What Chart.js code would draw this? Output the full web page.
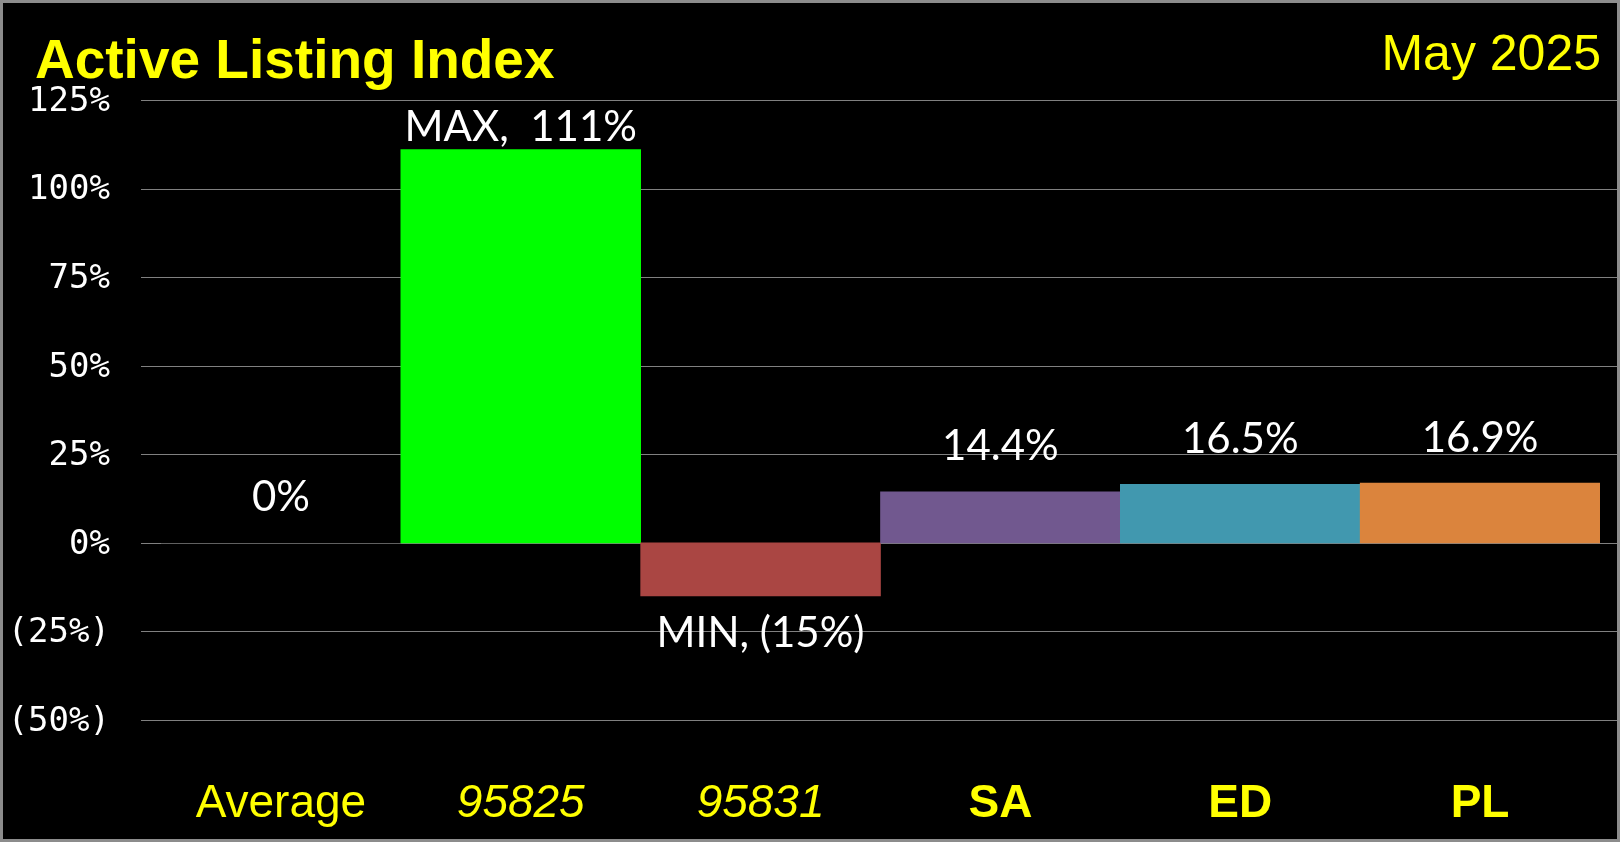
<!DOCTYPE html>
<html>
<head>
<meta charset="utf-8">
<script src="https://cdn.jsdelivr.net/npm/chart.js@4"></script>
<style>
  html, body { margin: 0; padding: 0; background: #000; }
  canvas { display: block; }
</style>
</head>
<body>
<canvas id="chart" width="1620" height="842"></canvas>
<script>
const categories = ["Average", "95825", "95831", "SA", "ED", "PL"];
const values = [0, 111, -15, 14.4, 16.5, 16.9];
const valueLabels = ["0%", "MAX,  111%", "MIN, (15%)", "14.4%", "16.5%", "16.9%"];
const yMin = -50;
const yMax = 125;
const yStep = 25;

const barColors = ["#000000", "#00FF00", "#AA4643", "#71588F", "#4198AF", "#DB843D"];
const tickStyles = [
  { style: "normal", weight: "normal" },
  { style: "italic", weight: "normal" },
  { style: "italic", weight: "normal" },
  { style: "normal", weight: "bold" },
  { style: "normal", weight: "bold" },
  { style: "normal", weight: "bold" },
];

const yellow = "#FFFF00";
const gridColor = "#808080";

// black background, border, titles
const frame = {
  id: "frame",
  beforeDraw(chart) {
    const ctx = chart.ctx;
    ctx.save();
    ctx.fillStyle = "#000";
    ctx.fillRect(0, 0, chart.width, chart.height);
    ctx.restore();
  },
  afterDraw(chart) {
    const ctx = chart.ctx;
    ctx.save();
    ctx.strokeStyle = "#8c8c8c";
    ctx.lineWidth = 3;
    ctx.strokeRect(1.5, 1.5, chart.width - 3, chart.height - 3);

    ctx.fillStyle = yellow;
    ctx.textBaseline = "alphabetic";
    ctx.textAlign = "left";
    ctx.font = 'bold 55px "Liberation Sans"';
    ctx.fillText("Active Listing Index", 35, 78);
    ctx.textAlign = "right";
    ctx.font = '50px "Liberation Sans"';
    ctx.fillText("May 2025", 1601, 70);
    ctx.restore();
  },
};

// gridlines run a little past the plot on both sides
const grid = {
  id: "grid",
  beforeDatasetsDraw(chart) {
    const ctx = chart.ctx;
    const y = chart.scales.y;
    ctx.save();
    ctx.strokeStyle = gridColor;
    ctx.lineWidth = 1;
    y.ticks.forEach((t) => {
      const py = Math.round(y.getPixelForValue(t.value)) + 0.5;
      ctx.beginPath();
      ctx.moveTo(141, py);
      ctx.lineTo(1617, py);
      ctx.stroke();
    });
    ctx.restore();
  },
};

const barLabels = {
  id: "barLabels",
  afterDatasetsDraw(chart) {
    const ctx = chart.ctx;
    const meta = chart.getDatasetMeta(0);
    const area = chart.chartArea;
    ctx.save();
    ctx.fillStyle = "#fff";
    ctx.font = '42px Lato';
    ctx.textAlign = "center";
    ctx.textBaseline = "middle";
    meta.data.forEach((bar, i) => {
      let cy;
      if (values[i] >= 0) {
        cy = bar.y - 45;
        if (cy - 20 < area.top) cy = bar.y - 22;
      } else {
        cy = bar.y + 37;
      }
      ctx.fillText(valueLabels[i], bar.x, cy);
    });
    ctx.restore();
  },
};

new Chart(document.getElementById("chart"), {
  type: "bar",
  plugins: [frame, grid, barLabels],
  data: {
    labels: categories,
    datasets: [
      {
        data: values,
        backgroundColor: barColors,
        borderWidth: 0,
        barPercentage: 1,
        categoryPercentage: 1,
      },
    ],
  },
  options: {
    responsive: false,
    animation: false,
    layout: { padding: { top: 100, right: 20, left: 0, bottom: 0 } },
    plugins: {
      legend: { display: false },
      tooltip: { enabled: false },
      title: { display: false },
    },
    scales: {
      x: {
        grid: { display: false, drawTicks: false },
        border: { display: false },
        afterFit: (scale) => { scale.height = 122; },
        ticks: {
          color: yellow,
          autoSkip: false,
          maxRotation: 0,
          padding: 57,
          font: (c) => ({
            family: '"Liberation Sans"',
            size: 46,
            style: tickStyles[c.index].style,
            weight: tickStyles[c.index].weight,
          }),
        },
      },
      y: {
        min: yMin,
        max: yMax,
        grid: { display: false, drawTicks: false },
        border: { display: false },
        afterFit: (scale) => { scale.width = 161; },
        ticks: {
          stepSize: yStep,
          color: "#fff",
          padding: 51,
          labelOffset: 2,
          font: { family: '"DejaVu Sans Mono"', size: 34 },
          callback: (v) => (v < 0 ? "(" + -v + "%)" : v + "%"),
        },
      },
    },
  },
});
</script>
</body>
</html>
